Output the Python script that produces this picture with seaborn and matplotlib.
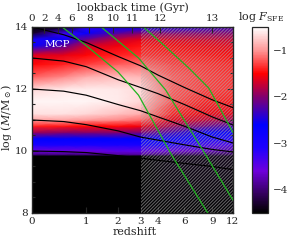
import numpy as np
import matplotlib
matplotlib.use("Agg")
import matplotlib.pyplot as plt
import seaborn as sns
from matplotlib.colors import LinearSegmentedColormap
from matplotlib.patches import Rectangle
from matplotlib.ticker import MultipleLocator, FixedLocator

# log F_SFE: one column per redshift node, rows follow grid_logm
grid_z = [0, 0.5, 1, 2, 3, 5, 8, 12]
grid_logm = [8.0, 9.84, 9.9, 10.0, 10.2, 10.4, 10.6, 10.8, 11.0, 11.2,
             11.6, 12.0, 12.4, 12.8, 13.1, 13.4, 13.6, 13.8, 14.0]
logf_z0 = [-6, -6, -3.9, -3.6, -3.0, -2.6, -1.9, -1.4, -0.95, -0.65,
           -0.55, -0.7, -1.2, -1.5, -1.65, -2.7, -3.0, -4.3, -5.5]
logf_z05 = [-6, -6, -3.9, -3.6, -3.0, -2.6, -2.0, -1.45, -0.95, -0.65,
            -0.55, -0.62, -1.05, -1.4, -1.6, -2.2, -2.7, -3.3, -4.4]
logf_z1 = [-6, -6, -3.9, -3.6, -3.0, -2.6, -2.0, -1.5, -1.0, -0.7,
           -0.55, -0.6, -0.9, -1.3, -1.5, -1.7, -2.1, -2.7, -3.2]
logf_z2 = [-6, -6, -3.8, -3.5, -3.0, -2.6, -2.0, -1.5, -1.05, -0.8,
           -0.6, -0.62, -0.82, -1.2, -1.4, -1.55, -1.75, -2.2, -2.7]
logf_z3 = [-6, -6, -3.8, -3.5, -3.0, -2.6, -2.05, -1.55, -1.15, -0.9,
           -0.7, -0.68, -0.85, -1.15, -1.35, -1.45, -1.6, -2.0, -2.6]
logf_z5 = [-6, -4.4, -4.0, -3.6, -3.1, -2.7, -2.3, -1.9, -1.6, -1.4,
           -1.25, -1.2, -1.2, -1.3, -1.4, -1.5, -1.65, -2.0, -2.5]
logf_z8 = [-6, -4.4, -4.1, -3.7, -3.3, -2.9, -2.6, -2.1, -1.75, -1.55,
           -1.4, -1.3, -1.3, -1.35, -1.45, -1.55, -1.7, -2.0, -2.4]
logf_z12 = [-6, -4.4, -4.1, -3.8, -3.4, -3.1, -2.7, -2.3, -1.9, -1.6,
            -1.45, -1.35, -1.35, -1.4, -1.5, -1.6, -1.75, -2.0, -2.3]

# halo growth tracks (black)
track_z = [0, 0.5, 1, 2, 3, 4, 6, 9, 12]
track_14 = [14.0, 13.75, 13.5, 13.05, 12.75, 12.45, 12.05, 11.65, 11.4]
track_13 = [13.0, 12.9, 12.72, 12.3, 12.05, 11.85, 11.5, 11.1, 10.84]
track_12 = [12.0, 11.93, 11.8, 11.5, 11.3, 11.1, 10.8, 10.45, 10.26]
track_11 = [11.0, 10.95, 10.85, 10.65, 10.45, 10.35, 10.2, 10.05, 9.97]
track_10 = [10.0, 9.98, 9.95, 9.85, 9.77, 9.7, 9.6, 9.5, 9.4]

# green lines
green_a_z = [0.47, 1.0, 2.0, 2.9, 4.95, 8.44]
green_a_m = [14.0, 13.4, 12.55, 11.8, 9.87, 8.0]
green_b_z = [1.42, 2.9, 4.51, 8.2, 12.0]
green_b_m = [14.0, 13.0, 11.97, 9.87, 8.42]
green_c_z = [3.15, 4.37, 6.4, 8.56, 10.15, 12.0]
green_c_m = [14.0, 13.42, 12.68, 12.03, 11.32, 10.6]

z_ticks = [0, 1, 2, 3, 4, 6, 9, 12]
lookback_gyr = [0, 2, 4, 6, 8, 10, 11, 12, 13]
lookback_z = [0, 0.17, 0.39, 0.66, 1.08, 1.83, 2.6, 4.15, 9.0]
cbar_ticks = [-1, -2, -3, -4]

sns.set_style("ticks")
plt.rcParams["font.family"] = ["DejaVu Serif"]
plt.rcParams["mathtext.fontset"] = "dejavuserif"
plt.rcParams["hatch.linewidth"] = 0.75

cmap = LinearSegmentedColormap.from_list("sfe", [
    (0.0, (0, 0, 0)),
    (0.1, (50/255, 0, 90/255)),
    (0.225, (110/255, 0, 220/255)),
    (0.35, (30/255, 0, 1)),
    (0.475, (0, 0, 1)),
    (0.625, (130/255, 0, 110/255)),
    (0.75, (1, 0, 0)),
    (0.875, (1, 150/255, 150/255)),
    (1.0, (1, 1, 1)),
])


def fwd(z):
    return np.log10(1 + np.asarray(z, dtype=float))


def inv(x):
    return 10 ** np.asarray(x, dtype=float) - 1


fig = plt.figure(figsize=(3.04, 2.40), dpi=100)
ax = fig.add_axes([0.105, 0.1125, 0.661, 0.775])
cax = fig.add_axes([0.829, 0.1125, 0.053, 0.775])

ax.set_xscale("function", functions=(fwd, inv))

X, Y = np.meshgrid(grid_z, grid_logm)
C = np.array([logf_z0, logf_z05, logf_z1, logf_z2, logf_z3,
              logf_z5, logf_z8, logf_z12]).T
mesh = ax.pcolormesh(X, Y, C, cmap=cmap, vmin=-4.5, vmax=-0.5,
                     shading="gouraud", zorder=0)

# hatched region beyond z = 3
ax.add_patch(Rectangle((3, 8), 9, 6, facecolor="none",
                       edgecolor=(0.7, 0.7, 0.7, 0.55), linewidth=0,
                       hatch="//////////", zorder=2))

for tr in [track_14, track_13, track_12, track_11, track_10]:
    sns.lineplot(x=track_z, y=tr, ax=ax, color="black", linewidth=0.85,
                 sort=False, estimator=None, zorder=3)
for gz, gm in [(green_a_z, green_a_m), (green_b_z, green_b_m),
               (green_c_z, green_c_m)]:
    sns.lineplot(x=gz, y=gm, ax=ax, color="#1fb41f", linewidth=0.9,
                 sort=False, estimator=None, zorder=3)

ax.set_xlim(0, 12)
ax.set_ylim(8, 14)
ax.set_xticks(z_ticks)
ax.set_xticklabels([str(t) for t in z_ticks])
ax.xaxis.set_minor_locator(FixedLocator([]))
ax.set_yticks([8, 10, 12, 14])
ax.yaxis.set_minor_locator(MultipleLocator(0.5))
ax.tick_params(which="both", direction="in", top=False, right=True,
               labelsize=7.5, width=0.8, pad=3)
ax.tick_params(which="major", length=4)
ax.tick_params(which="minor", length=2)
ax.set_xlabel("")
ax.set_ylabel("")
for s in ax.spines.values():
    s.set_linewidth(0.9)

ax.text(0.38, 13.42, "MCP", color="white", fontsize=7.5, ha="center",
        va="center", zorder=4)

ax2 = ax.twiny()
ax2.set_xscale("function", functions=(fwd, inv))
ax2.set_xlim(0, 12)
ax2.set_xticks(lookback_z)
ax2.set_xticklabels([str(t) for t in lookback_gyr])
ax2.xaxis.set_minor_locator(FixedLocator([]))
ax2.tick_params(direction="in", length=4, width=0.8, labelsize=7.5, pad=3)

cb = fig.colorbar(mesh, cax=cax)
cb.set_ticks(cbar_ticks)
cb.ax.yaxis.set_minor_locator(MultipleLocator(0.2))
cb.ax.tick_params(which="both", direction="in", left=True, right=True,
                  labelsize=7.5, width=0.8)
cb.ax.tick_params(which="major", length=4)
cb.ax.tick_params(which="minor", length=2)
cb.outline.set_linewidth(0.9)

fig.text(0.444, 0.033, "redshift", ha="center", va="center", fontsize=8)
fig.text(0.437, 0.968, "lookback time (Gyr)", ha="center", va="center",
         fontsize=8)
fig.text(0.022, 0.51, r"log ($M$/M$_\odot$)", ha="center", va="center",
         rotation=90, fontsize=8)
fig.text(0.86, 0.93, r"log $F_{\rm SFE}$", ha="center", va="center",
         fontsize=8)

fig.savefig("out.png", dpi=100)
